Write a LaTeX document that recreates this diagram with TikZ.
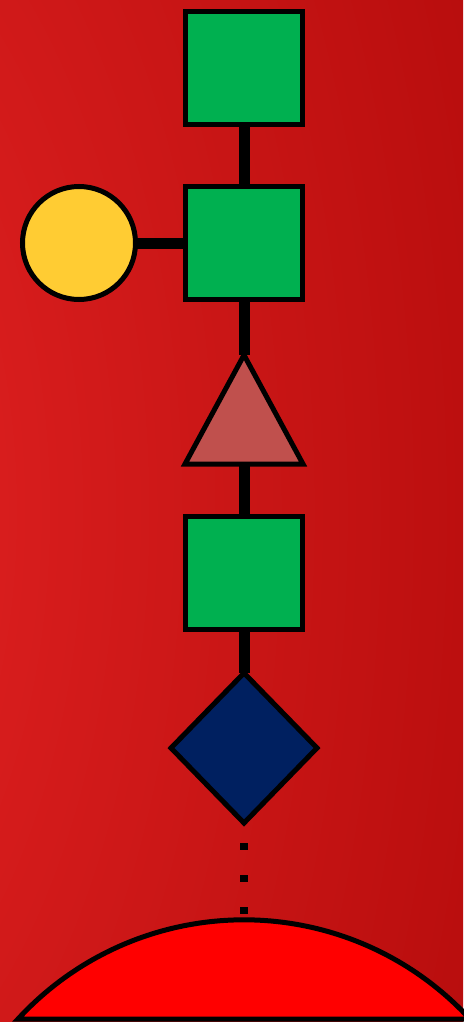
\documentclass[tikz,border=0pt]{standalone}
\usetikzlibrary{shapes.geometric}
\definecolor{sqgreen}{HTML}{00B050}
\definecolor{circyellow}{HTML}{FFCC33}
\definecolor{trired}{HTML}{C0504D}
\definecolor{dianavy}{HTML}{002060}
\pgfdeclarefunctionalshading{bgshade}{\pgfpoint{-50bp}{-50bp}}{\pgfpoint{50bp}{50bp}}{}{
  50 div 0.6 mul dup mul
  exch 50 add 100 div dup mul add sqrt
  dup 56 mul 230 exch sub 255 div
  exch 28 mul 36 exch sub 255 div dup
}
\pgfdeclarelayer{bglayer}
\pgfdeclarelayer{edgelayer}
\pgfsetlayers{bglayer,edgelayer,main}
\tikzset{
  sym/.style={draw=black, line width=5pt, inner sep=0pt, outer sep=0pt},
  sqbox/.style={sym, rectangle, fill=sqgreen, minimum width=117pt, minimum height=113pt},
  link/.style={line width=11pt, black},
  dotlink/.style={line width=8pt, black, dash pattern=on 7pt off 25pt, dash phase=12pt}
}
\begin{document}
\begin{tikzpicture}[x=1pt,y=-1pt]
\begin{pgfonlayer}{bglayer}
\shade[shading=bgshade] (0,0) rectangle (463,1022);
\end{pgfonlayer}
\useasboundingbox (0,0) rectangle (463,1022);
\node[sqbox] (s1) at (244,68) {};
\node[sqbox] (s2) at (244,243) {};
\node[sym, circle, fill=circyellow, minimum size=113pt] (c1) at (79,243) {};
\draw[sym, fill=trired, line join=miter] (244,355) -- (303,464) -- (185,464) -- cycle;
\coordinate (tapex) at (244,355);
\coordinate (tbase) at (244,464);
\node[sqbox] (s3) at (244,573) {};
\node[sym, diamond, fill=dianavy, minimum width=146pt, minimum height=150pt] (d1) at (244,748) {};
\draw[sym, fill=red] (18,1019) arc[start angle=222.6, end angle=317.4, radius=307] -- cycle;
\coordinate (etop) at (244,920);
\begin{pgfonlayer}{edgelayer}
\draw[link] (s1) -- (s2);
\draw[link] (c1) -- (s2);
\draw[link] (s2) -- (tapex);
\draw[link] (tbase) -- (s3);
\draw[link] (s3) -- (d1);
\draw[dotlink] (d1.south) -- (etop);
\end{pgfonlayer}
\end{tikzpicture}
\end{document}
